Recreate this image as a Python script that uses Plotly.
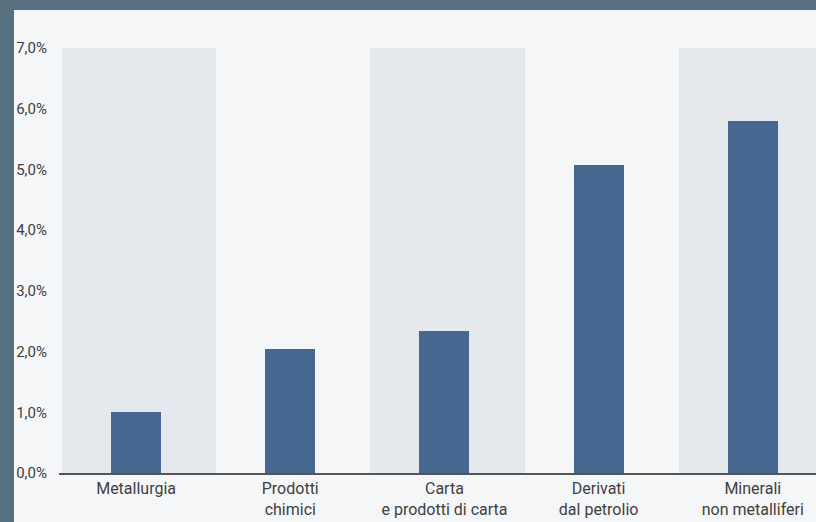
import plotly.graph_objects as go

# Sector categories (two-line labels) and their shares, in percent
categories = ["Metallurgia", "Prodotti chimici", "Carta e prodotti di carta",
              "Derivati dal petrolio", "Minerali non metalliferi"]
tick_labels = ["Metallurgia", "Prodotti<br>chimici", "Carta<br>e prodotti di carta",
               "Derivati<br>dal petrolio", "Minerali<br>non metalliferi"]
values = [1.0, 2.05, 2.34, 5.08, 5.80]
y_ticks = [0, 1, 2, 3, 4, 5, 6, 7]
y_max = 7.0

FONT = "Roboto, Arial, sans-serif"
TEXT_COLOR = "#3f3f3f"
BAR_COLOR = "#466890"
BAND_COLOR = "#e5e8ed"
PANEL_COLOR = "#f5f6f8"
FRAME_COLOR = "#56707f"

W, H = 816, 522
ML, MR, MT, MB = 59, 0, 48, 49

x_idx = list(range(len(categories)))
band_idx = [i for i in x_idx if i % 2 == 0]
y_tick_text = [f"{v:.1f}".replace(".", ",") + "%" for v in y_ticks]

fig = go.Figure()

# Alternating light column bands behind every other category
fig.add_trace(go.Bar(
    x=band_idx, y=[y_max] * len(band_idx),
    width=1.0, offset=-0.48,
    marker=dict(color=BAND_COLOR, line=dict(width=0)),
    hoverinfo="skip", showlegend=False,
))

# Data bars
fig.add_trace(go.Bar(
    x=x_idx, y=values,
    width=0.324,
    marker=dict(color=BAR_COLOR, line=dict(width=0)),
    hoverinfo="skip", showlegend=False,
))

# Light panel over the dark frame (pixel position converted to paper coords)
pw = W - ML - MR
ph = H - MT - MB
def px_x(p):
    return (p - ML) / pw
def px_y(p):
    return (H - MB - p) / ph

fig.add_shape(type="rect", xref="paper", yref="paper",
              x0=px_x(14), x1=px_x(W + 2), y0=px_y(H + 2), y1=px_y(10),
              fillcolor=PANEL_COLOR, line=dict(width=0), layer="below")

fig.update_layout(
    width=W, height=H,
    margin=dict(l=ML, r=MR, t=MT, b=MB, pad=0),
    paper_bgcolor=FRAME_COLOR,
    plot_bgcolor="rgba(0,0,0,0)",
    barmode="overlay",
    bargap=0,
    showlegend=False,
    font=dict(family=FONT, color=TEXT_COLOR),
    xaxis=dict(
        range=[-0.5, 4.41],
        tickmode="array", tickvals=x_idx, ticktext=tick_labels,
        tickfont=dict(size=16, color=TEXT_COLOR, family=FONT),
        showline=True, linecolor="#555555", linewidth=2,
        showgrid=False, zeroline=False, ticks="",
        fixedrange=True,
    ),
    yaxis=dict(
        range=[0, y_max],
        tickmode="array", tickvals=y_ticks, ticktext=y_tick_text,
        tickfont=dict(size=15, color=TEXT_COLOR, family=FONT),
        showgrid=False, zeroline=False, showline=False, ticks="",
        ticklabelstandoff=11,
        fixedrange=True,
    ),
)

fig.write_html("out.html")
